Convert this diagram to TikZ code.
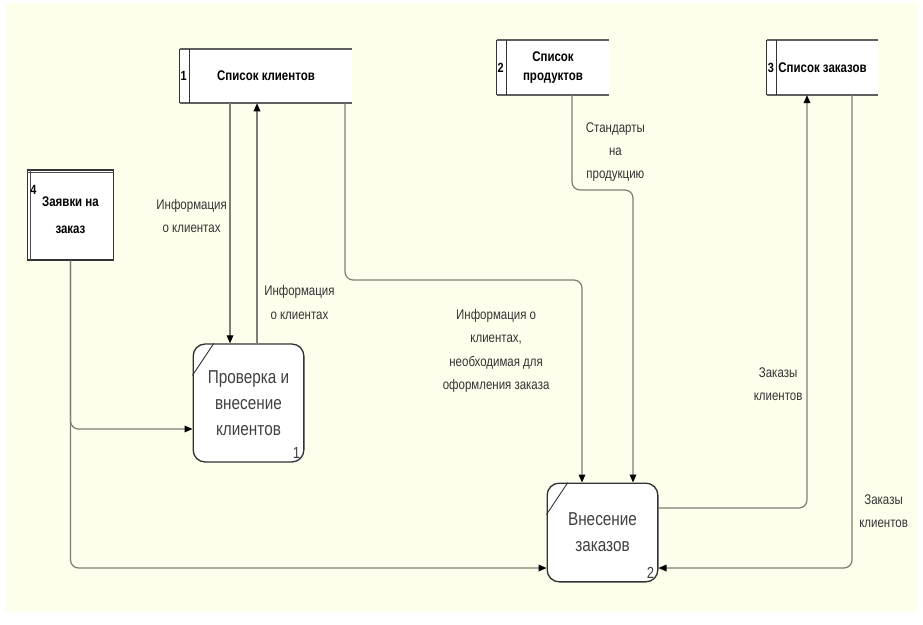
\documentclass[tikz,border=0pt]{standalone}
\usepackage{fontspec}
\setmainfont{Liberation Sans}[FakeStretch=0.82]
\usetikzlibrary{arrows.meta}

\definecolor{creamy}{RGB}{254,254,236}
\definecolor{flowgray}{RGB}{125,125,118}
\definecolor{storegray}{RGB}{95,95,95}

\begin{document}
\begin{tikzpicture}[x=0.75pt,y=-0.75pt,
  store/.style={rectangle,fill=white,inner sep=2pt,align=center,
    font=\bfseries\fontsize{10.5}{14}\selectfont,
    append after command={
      (\tikzlastnode.north west) edge[storegray,line width=1.8pt] (\tikzlastnode.north east)
      (\tikzlastnode.south west) edge[storegray,line width=1.8pt] (\tikzlastnode.south east)
      (\tikzlastnode.north west) edge[black!80,line width=0.7pt] (\tikzlastnode.south west)
      ([xshift=7.5pt]\tikzlastnode.north west) edge[black!80,line width=0.7pt] ([xshift=7.5pt]\tikzlastnode.south west)}},
  ext/.style={rectangle,draw=black!80,line width=0.8pt,fill=white,align=center,
    font=\bfseries\fontsize{10.5}{20}\selectfont,
    append after command={
      ([yshift=-2.5pt]\tikzlastnode.north west) edge[black!70,line width=0.6pt] ([yshift=-2.5pt]\tikzlastnode.north east)
      ([xshift=2.5pt]\tikzlastnode.north west) edge[black!70,line width=0.6pt] ([xshift=2.5pt]\tikzlastnode.south west)}},
  proc/.style={rectangle,rounded corners=9pt,draw=black!80,line width=1pt,fill=white,
    align=center,font=\fontsize{14}{19.5}\selectfont,text=black!75,
    append after command={
      ([yshift=-24pt]\tikzlastnode.north west) edge[black!80,line width=0.7pt] ([xshift=16pt]\tikzlastnode.north west)}},
  sid/.style={inner sep=0.5pt,font=\bfseries\fontsize{10}{12}\selectfont},
  pid/.style={inner sep=0pt,font=\fontsize{12}{14}\selectfont,text=black!75},
  lbl/.style={align=center,inner sep=2pt,font=\fontsize{10.5}{17.5}\selectfont,text=black!80},
  flow/.style={draw=flowgray,line width=0.9pt,rounded corners=6pt,
    -{Triangle[length=6pt,width=5pt,color=black]}},
]
\useasboundingbox (0,0) rectangle (923,624);
\fill[creamy] (5,3) rectangle (918,612);

% ---------------- data stores ----------------
\node[store,minimum width=129pt,minimum height=40.5pt] (s1) at (266,76) {Список клиентов};
\node[sid,anchor=west] (s1n) at (s1.west) {1};
\node[store,minimum width=84pt,minimum height=41pt] (s2) at (553,67.5) {Список\\продуктов};
\node[sid,anchor=west] (s2n) at (s2.west) {2};
\node[store,minimum width=83pt,minimum height=41pt] (s3) at (822.5,67.5) {Список заказов};
\node[sid,anchor=west] (s3n) at (s3.west) {3};
\node[ext,minimum width=64pt,minimum height=67.5pt] (s4) at (70.5,215) {Заявки на\\заказ};
\node[sid] (s4n) at ([shift={(6,20)}]s4.north west) {4};

% ---------------- processes ----------------
\node[proc,minimum width=83pt,minimum height=88.5pt] (p1) at (248.5,403) {Проверка и\\внесение\\клиентов};
\node[pid] (p1n) at ([shift={(-8,-10)}]p1.south east) {1};
\node[proc,minimum width=83pt,minimum height=74pt] (p2) at (602.5,532.5) {Внесение\\заказов};
\node[pid] (p2n) at ([shift={(-8,-10)}]p2.south east) {2};

% ---------------- flow positions ----------------
\coordinate (xa) at (230,0);
\coordinate (xb) at (257,0);
\coordinate (xc) at (345,0);
\coordinate (xd) at (582,0);
\coordinate (xe) at (572,0);
\coordinate (xf) at (633,0);
\coordinate (xg) at (807,0);
\coordinate (xh) at (852,0);
\coordinate (ya) at (0,280);
\coordinate (yb) at (0,190);
\coordinate (yc) at (0,508);
\coordinate (yd) at (0,568);
\coordinate (ye) at (0,429);

% ---------------- flows ----------------
\draw[flow] (s1.south -| xa) -- node[lbl,left,pos=0.47] {Информация\\о клиентах} (p1.north -| xa);
\draw[flow] (p1.north -| xb) -- node[lbl,right=3pt,pos=0.17] {Информация\\о клиентах} (s1.south -| xb);
\draw[flow] (s1.south -| xc) |- (ya -| xd)
  -- node[lbl,left=22pt,pos=0.35] {Информация о\\клиентах,\\необходимая для\\оформления заказа} (p2.north -| xd);
\draw[flow] (s2.south -| xe) -- node[lbl,right=8pt,pos=0.6] {Стандарты\\на\\продукцию} (yb -| xe)
  -- (yb -| xf) -- (p2.north -| xf);
\draw[flow] (p2.east |- yc) -- (yc -| xg)
  -- node[lbl,left=1pt,pos=0.3] {Заказы\\клиентов} (s3.south -| xg);
\draw[flow] (s3.south -| xh) -- node[lbl,right=3pt,pos=0.88] {Заказы\\клиентов} (yd -| xh)
  -- (p2.east |- yd);
\draw[flow] (s4.south) |- (p2.west |- yd);
\draw[flow] (s4.south) |- (p1.west |- ye);
\end{tikzpicture}
\end{document}
